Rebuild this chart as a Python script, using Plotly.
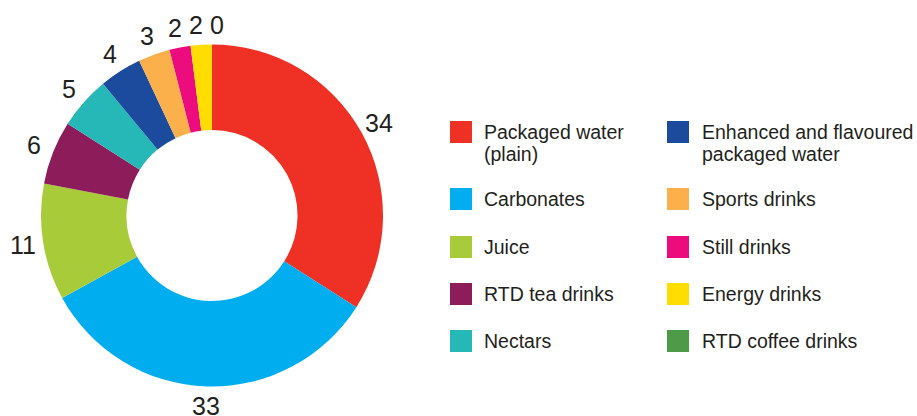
import math
import plotly.graph_objects as go

labels = ["Packaged water<br>(plain)", "Carbonates", "Juice", "RTD tea drinks", "Nectars",
          "Enhanced and flavoured<br>packaged water", "Sports drinks", "Still drinks",
          "Energy drinks", "RTD coffee drinks"]
values = [34, 33, 11, 6, 5, 4, 3, 2, 2, 0]
colors = ["#EE3124", "#00AEEF", "#A8CB3A", "#8C1D5A", "#25B8B6",
          "#1C4A9C", "#FBB04C", "#EC0C7E", "#FFDD00", "#4D9A48"]

W, H = 917, 416
FONT = "Liberation Sans, Arial, sans-serif"
TXT = "#231f20"

# pie geometry (pixels)
cx, cy, R = 212, 215.5, 171
dom_x = [(cx - R) / W, (cx + R) / W]
dom_y = [1 - (cy + R) / H, 1 - (cy - R) / H]

fig = go.Figure()
fig.add_trace(go.Pie(
    labels=labels, values=values, sort=False, direction="clockwise", rotation=0,
    hole=0.5, marker=dict(colors=colors, line=dict(width=0)),
    textinfo="none", automargin=False,
    domain=dict(x=dom_x, y=dom_y),
    showlegend=False, hoverinfo="label+value",
))

annotations, shapes = [], []

# value labels outside the ring, at each slice's mid angle (spread apart when crowded)
total = sum(values)
LABEL_R = R + 20
angles = []
cum = 0
for v in values:
    angles.append((cum + v / 2) / total * 2 * math.pi)
    cum += v
min_sep = 21 / LABEL_R
for _ in range(50):
    for i in range(len(angles) - 1):
        gap = angles[i + 1] - angles[i]
        if gap < min_sep:
            d = (min_sep - gap) / 2
            angles[i] -= d
            angles[i + 1] += d
for v, a in zip(values, angles):
    px = cx + LABEL_R * math.sin(a)
    py = cy - LABEL_R * math.cos(a)
    annotations.append(dict(xref="paper", yref="paper", x=px / W, y=1 - py / H,
                            xanchor="center", yanchor="middle", text=str(v),
                            showarrow=False,
                            font=dict(family=FONT, size=25, color=TXT)))

# legend drawn as squares + text, two columns of five
col_sq_x = [450, 667]
col_tx_x = [482, 700]
row_y = [132, 199, 247, 294, 341]
for i, (lab, col) in enumerate(zip(labels, colors)):
    c, r = divmod(i, 5)
    yc = row_y[r]
    x0 = col_sq_x[c]
    shapes.append(dict(type="rect", xref="paper", yref="paper",
                       x0=x0 / W, x1=(x0 + 22) / W,
                       y0=1 - (yc + 11) / H, y1=1 - (yc - 11) / H,
                       fillcolor=col, line=dict(width=0)))
    for k, line in enumerate(lab.split("<br>")):
        annotations.append(dict(xref="paper", yref="paper", x=col_tx_x[c] / W,
                                y=1 - (yc + 22 * k) / H, xanchor="left", yanchor="middle",
                                text=line, showarrow=False,
                                font=dict(family=FONT, size=19.5, color=TXT)))

fig.update_layout(width=W, height=H,
                  margin=dict(l=0, r=0, t=0, b=0, pad=0, autoexpand=False),
                  paper_bgcolor="white", plot_bgcolor="white",
                  shapes=shapes, annotations=annotations)
fig.write_html("out.html")
